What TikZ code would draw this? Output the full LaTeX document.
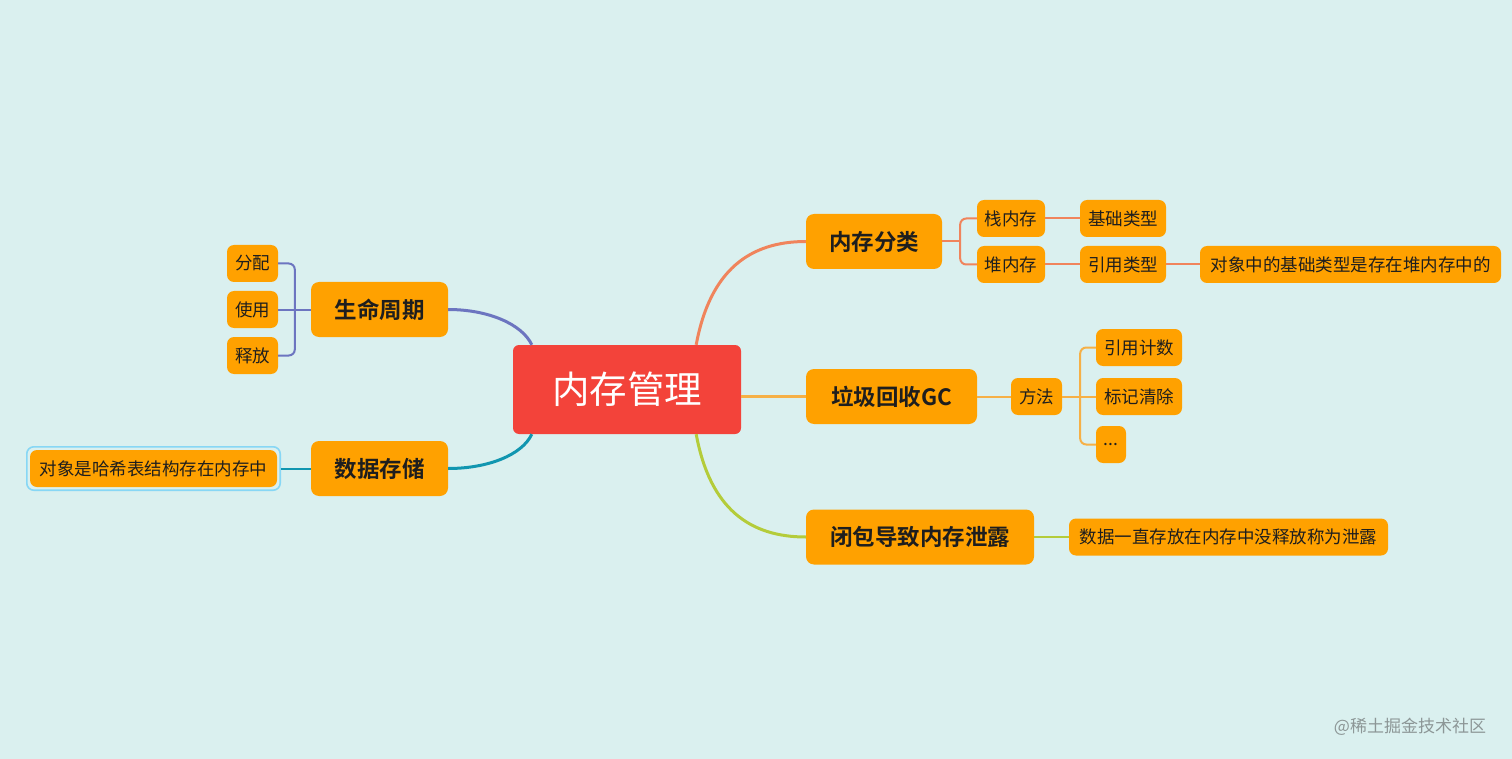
\documentclass[tikz,border=0pt]{standalone}
\usepackage{fontspec}
\setmainfont{Noto Sans CJK SC}[BoldFont={Noto Sans CJK SC Bold}]
\usepackage{xcolor}
\usetikzlibrary{positioning,calc,fit}
\definecolor{bgcyan}{RGB}{218,240,239}
\definecolor{nodeorange}{RGB}{255,161,0}
\definecolor{rootred}{RGB}{243,67,58}
\definecolor{inkdark}{RGB}{30,30,30}
\definecolor{lnCoral}{RGB}{240,132,92}
\definecolor{lnGold}{RGB}{246,176,70}
\definecolor{lnLime}{RGB}{180,204,58}
\definecolor{lnIndigo}{RGB}{108,117,192}
\definecolor{lnTeal}{RGB}{17,150,176}
\definecolor{selblue}{RGB}{135,215,245}
\definecolor{wmgray}{RGB}{140,150,150}
\tikzset{
  rootbox/.style={rectangle, fill=rootred, rounded corners=6pt, text=white, minimum width=228pt, minimum height=89pt, font=\fontsize{37.5}{40}\selectfont},
  topic/.style={rectangle, fill=nodeorange, rounded corners=8pt, text=inkdark, minimum height=55pt, inner xsep=20pt, font=\bfseries\fontsize{22.5}{26}\selectfont},
  leaf/.style={rectangle, fill=nodeorange, rounded corners=7pt, text=inkdark, minimum height=37pt, inner xsep=6pt, font=\fontsize{17.5}{20}\selectfont},
  trunk/.style={line width=3pt},
  twig/.style={line width=2pt}
}
\begin{document}
\begin{tikzpicture}[x=1pt, y=-1pt]
\fill[bgcyan] (0,0) rectangle (1512,759);
\useasboundingbox (0,0) rectangle (1512,759);
% centre
\node[rootbox] (root) at (627,389.5) {内存管理};
\coordinate (rootTL) at ($(root.north west)+(19,0)$);
\coordinate (rootTR) at ($(root.north east)+(-45,0)$);
\coordinate (rootBL) at ($(root.south west)+(19,0)$);
\coordinate (rootBR) at ($(root.south east)+(-45,0)$);
% right side
\node[topic, minimum width=136pt] (mem) at (874,241.5) {内存分类};
\node[topic, minimum width=171pt] (gc) at (891.5,396.5) {垃圾回收GC};
\node[topic, minimum width=228pt] (leak) at (920,537) {闭包导致内存泄露};
\node[leaf, minimum width=68pt] (stack) at (1011,218.5) {栈内存};
\node[leaf, minimum width=68pt] (heap) at (1011,264.5) {堆内存};
\node[leaf, minimum width=86pt] (basic) at (1123,218.5) {基础类型};
\node[leaf, minimum width=86pt] (reft) at (1123,264.5) {引用类型};
\node[leaf, minimum width=301pt] (refnote) at (1350.5,264.5) {对象中的基础类型是存在堆内存中的};
\node[leaf, minimum width=51pt] (method) at (1036.5,396.5) {方法};
\node[leaf, minimum width=86pt] (count) at (1139,347.5) {引用计数};
\node[leaf, minimum width=86pt] (mark) at (1139,396.5) {标记清除};
\node[leaf, minimum width=30pt, inner xsep=2pt] (etc) at (1111,444.5) {...};
\node[leaf, minimum width=319pt] (leaknote) at (1228.5,537) {数据一直存放在内存中没释放称为泄露};
% left side
\node[topic, minimum width=137pt] (life) at (379.5,309.5) {生命周期};
\node[topic, minimum width=137pt] (store) at (379.5,468.5) {数据存储};
\node[leaf, minimum width=51pt] (alloc) at (252.5,263.5) {分配};
\node[leaf, minimum width=51pt] (use) at (252.5,309.5) {使用};
\node[leaf, minimum width=51pt] (free) at (252.5,355.5) {释放};
\node[leaf, minimum width=247pt] (storenote) at (153.5,468.5) {对象是哈希表结构存在内存中};
\node[draw=selblue, line width=1.6pt, rounded corners=7pt, inner sep=3pt, fit=(storenote)] (storesel) {};
% trunks
\draw[trunk, lnCoral] (rootTR) .. controls (710,270) and (750,241.5) .. (mem.west);
\draw[trunk, lnGold] (root.east |- gc.west) -- (gc.west);
\draw[trunk, lnLime] (rootBR) .. controls (710,509) and (750,537) .. (leak.west);
\draw[trunk, lnIndigo] (life.east) .. controls (488,309.5) and (522,324) .. (rootTL);
\draw[trunk, lnTeal] (rootBL) .. controls (522,455) and (488,468.5) .. (store.east);
% twigs
\coordinate (memBr) at ($(mem.east)+(18,0)$);
\draw[twig, lnCoral] (mem.east) -- (memBr);
\draw[twig, lnCoral, rounded corners=6pt] (stack.west) -| (memBr) |- (heap.west);
\draw[twig, lnCoral] (stack) -- (basic);
\draw[twig, lnCoral] (heap) -- (reft);
\draw[twig, lnCoral] (reft) -- (refnote);
\coordinate (gcBr) at ($(method.east)+(18,0)$);
\draw[twig, lnGold] (gc.east) -- (method.west);
\draw[twig, lnGold] (method.east) -- (gcBr) -- (mark.west);
\draw[twig, lnGold, rounded corners=6pt] (count.west) -| (gcBr) |- (etc.west);
\draw[twig, lnLime] (leak.east) -- (leaknote.west);
\coordinate (lifeBr) at ($(life.west)+(-16,0)$);
\draw[twig, lnIndigo] (life.west) -- (lifeBr) -- (use.east);
\draw[twig, lnIndigo, rounded corners=6pt] (alloc.east) -| (lifeBr) |- (free.east);
\draw[twig, lnTeal] (store.west) -- (storesel.east);
% watermark
\node[text=wmgray, font=\fontsize{17}{20}\selectfont] (mark2) at (1410,727) {@稀土掘金技术社区};
\end{tikzpicture}
\end{document}
